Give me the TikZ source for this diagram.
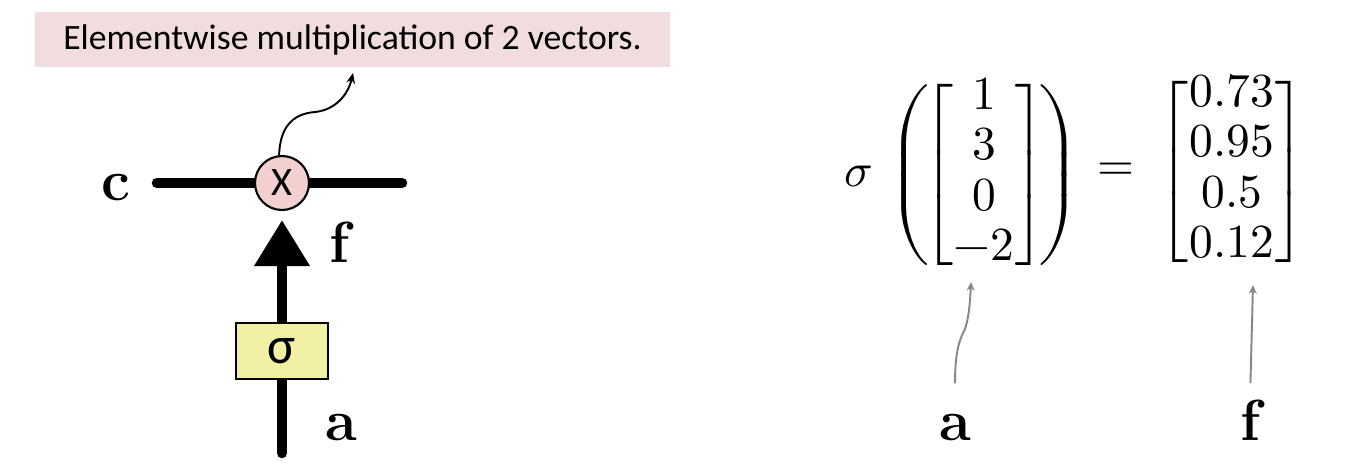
\documentclass[tikz,border=0pt]{standalone}
\usepackage{amsmath}
\usepackage{fontspec}
\usepackage{unicode-math}
\setmathfont{Latin Modern Math}
\newfontfamily\calibfont{Carlito}
\usetikzlibrary{positioning, arrows.meta, backgrounds}
\definecolor{notepink}{RGB}{242,221,222}
\definecolor{gatepink}{RGB}{242,208,208}
\definecolor{gateyellow}{RGB}{242,240,164}
\definecolor{ptrgray}{RGB}{135,135,135}
\setlength{\arraycolsep}{1.5pt}
\setlength{\delimitershortfall}{24pt}

\begin{document}
\begin{tikzpicture}[
  x=0.02cm, y=-0.02cm,
  note/.style={fill=notepink, minimum width=12.7cm, minimum height=1.1cm,
    inner sep=0pt, font=\calibfont\fontsize{20.3}{22}\selectfont},
  mulgate/.style={circle, draw, line width=1.2pt, fill=gatepink,
    minimum size=1.08cm, inner sep=0pt, font=\calibfont\fontsize{23}{23}\selectfont},
  siggate/.style={draw, line width=1.2pt, fill=gateyellow,
    minimum width=1.84cm, minimum height=1.12cm, inner sep=0pt,
    font=\calibfont\fontsize{30}{30}\selectfont},
  vec/.style={inner sep=0pt, font=\fontsize{27}{28.5}\selectfont},
  lbl/.style={anchor=base, inner sep=0pt, font=\fontsize{33}{36}\selectfont\bfseries},
  wire/.style={line width=6pt, line cap=round},
  ptr/.style={draw=ptrgray, line width=1.1pt, -{Stealth[length=5pt, width=4.5pt]}}
]
\useasboundingbox (0,0) rectangle (1364,474);

% left: the gate
\node[note] (note) at (352.5,39.5) {Elementwise multiplication of 2 vectors.};
\node[mulgate] (mul) at (282,183) {X};
\node[siggate] (sig) at (282,351) {σ};
\coordinate (cl) at (157,183);
\coordinate (cr) at (402,183);
\coordinate (abot) at (282,453);
\coordinate (ntip) at (353,73);
\node[lbl] (c) at (116,200) {c};
\node[lbl] (f) at (339,262) {f};
\node[lbl] (a) at (341,440) {a};

\begin{scope}[on background layer]
  \draw[wire] (cl) -- (mul.west);
  \draw[wire] (mul.east) -- (cr);
  \draw[wire] (abot) -- (sig.south);
  \draw[wire, -{Triangle[length=0.92cm, width=1.06cm]}, shorten >=0.18cm]
    (sig.north) -- (mul.south);
\end{scope}
\draw[line width=1.1pt, -{Stealth[length=6pt, width=5pt]}] (mul.96)
  .. controls (280,130) and (290,114) .. (315,112)
  .. controls (335,110) and (348,95) .. (ntip);

% right: the numbers
\node[vec] (lhs) at (962,175)
  {$\sigma\,\left(\!\begin{bmatrix}1\\3\\0\\-2\end{bmatrix}\!\right)$};
\node[vec] (eq) at (1116,172) {$=$};
\node[vec] (rhs) at (1232,172)
  {$\begin{bmatrix}0.73\\0.95\\0.5\\0.12\end{bmatrix}$};
\node[lbl] (avec) at (955,440) {a};
\node[lbl] (fvec) at (1250,440) {f};
\coordinate (atip) at (971,282);
\coordinate (ftip) at (1253,285);
\draw[ptr, shorten <=0.6cm] (avec.north)
  .. controls (955,350) and (960,340) .. (963,333)
  .. controls (968,325) and (970,305) .. (atip);
\draw[ptr, shorten <=0.32cm] (fvec.north) -- (ftip);

\end{tikzpicture}
\end{document}
